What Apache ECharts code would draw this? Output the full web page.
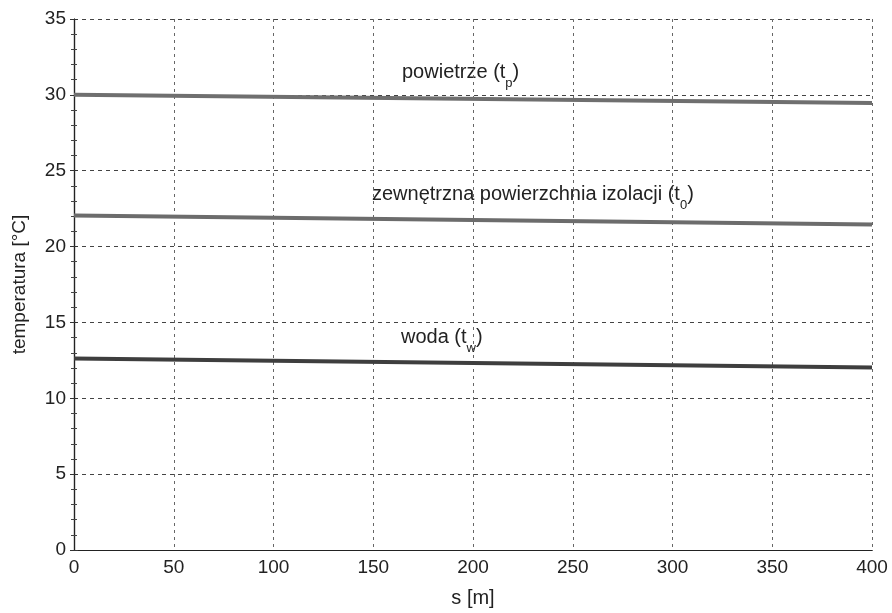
<!DOCTYPE html>
<html>
<head>
<meta charset="utf-8">
<script src="https://cdn.jsdelivr.net/npm/echarts@6/dist/echarts.min.js"></script>
<style>
  html, body { margin: 0; padding: 0; background: #fff; }
  #chart { width: 892px; height: 613px; }
</style>
</head>
<body>
<div id="chart"></div>
<script>
// odległość s [m]
const distance = [0, 400]
// temperatury
const airTemp = [30.0, 29.47]
const insulationTemp = [22.05, 21.45]
const waterTemp = [12.63, 12.03]

const chart = echarts.init(document.getElementById('chart'), null, { renderer: 'canvas' })

const font = 'Liberation Sans, Arial, sans-serif'
const gridDash = { type: [4, 4], color: '#444', width: 1 }

function pairs(ys) {
  return distance.map((x, i) => [x, ys[i]])
}

function lineSeries(name, ys, color) {
  return {
    name,
    type: 'line',
    data: pairs(ys),
    symbol: 'none',
    lineStyle: { color, width: 4 },
    z: 5
  }
}

function label(left, top, text) {
  return {
    type: 'text',
    left, top,
    style: {
      text,
      fontSize: 20,
      fontFamily: font,
      fill: '#222',
      rich: {
        n: { fontSize: 20, fontFamily: font, color: '#222' },
        s: { fontSize: 13, fontFamily: font, color: '#222', verticalAlign: 'bottom', padding: [0, 0, -8, 0] }
      }
    }
  }
}

chart.setOption({
  animation: false,
  backgroundColor: '#fff',
  grid: { left: 74, right: 20, top: 19, bottom: 62 },
  xAxis: [{
    type: 'value',
    min: 0, max: 400, interval: 50,
    name: 's [m]',
    nameLocation: 'middle',
    nameGap: 38,
    nameTextStyle: { fontSize: 20, color: '#222', fontFamily: font },
    axisLine: { onZero: false, lineStyle: { color: '#222', width: 1.2 } },
    axisTick: { show: false },
    axisLabel: { fontSize: 19, color: '#222', fontFamily: font, margin: 8 },
    splitLine: { show: true, lineStyle: Object.assign({}, gridDash, { color: '#666', type: [3, 4] }) }
  }, {
    type: 'value',
    position: 'top',
    min: 0, max: 400, interval: 50,
    axisLine: { show: true, lineStyle: { color: '#222', width: 1.2 } },
    axisTick: { show: false },
    axisLabel: { show: false },
    splitLine: { show: false }
  }],
  yAxis: [{
    type: 'value',
    min: 0, max: 35, interval: 5,
    name: 'temperatura [°C]',
    nameLocation: 'middle',
    nameGap: 45,
    nameTextStyle: { fontSize: 19, color: '#222', fontFamily: font },
    axisLine: { show: true, onZero: false, lineStyle: { color: '#222', width: 1.2 } },
    axisTick: { show: true, inside: true, length: 4, lineStyle: { color: '#333' } },
    minorTick: { show: true, splitNumber: 5, length: 3, lineStyle: { color: '#444' } },
    axisLabel: { fontSize: 19, color: '#222', fontFamily: font, margin: 8 },
    splitLine: { show: true, lineStyle: gridDash }
  }, {
    type: 'value',
    position: 'right',
    min: 0, max: 35, interval: 5,
    axisLine: { show: true, lineStyle: { color: '#222', width: 1.2 } },
    axisTick: { show: true, inside: true, length: 4, lineStyle: { color: '#333' } },
    minorTick: { show: true, splitNumber: 5, length: 3, lineStyle: { color: '#444' } },
    axisLabel: { show: false },
    splitLine: { show: false }
  }],
  series: [
    lineSeries('powietrze', airTemp, '#6f6f6f'),
    lineSeries('zewnętrzna powierzchnia izolacji', insulationTemp, '#6c6c6c'),
    lineSeries('woda', waterTemp, '#3e3e3e')
  ],
  graphic: [
    label(402, 62, '{n|powietrze (t}{s|p}{n|)}'),
    label(372, 184, '{n|zewnętrzna powierzchnia izolacji (t}{s|0}{n|)}'),
    label(401, 327, '{n|woda (t}{s|w}{n|)}')
  ]
})
</script>
</body>
</html>
